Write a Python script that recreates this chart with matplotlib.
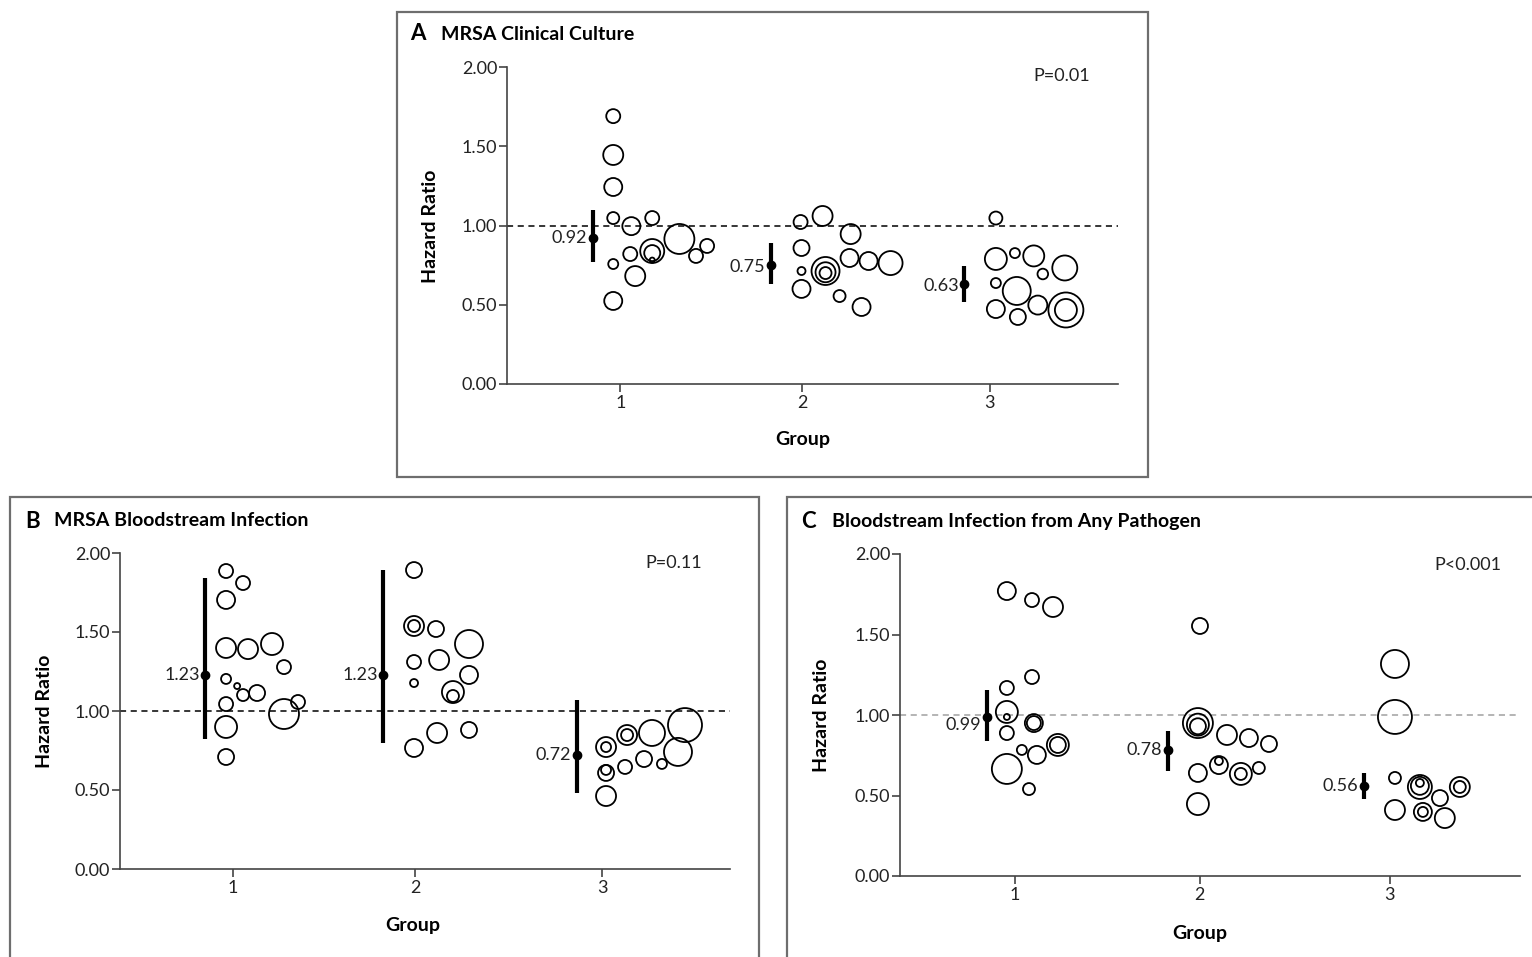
import matplotlib.pyplot as plt
from matplotlib.patches import Rectangle

plt.rcParams['font.family'] = ['Lato', 'DejaVu Sans']

# Study-level hazard ratios (bubbles), bubble weight ~ radius, per panel
a_x = [0.962, 0.962, 0.962, 0.962, 1.06, 1.173, 1.32, 1.47, 1.41, 1.173, 1.173, 1.173, 1.054, 0.962, 1.081, 0.962,
       1.976, 2.095, 2.247, 1.981, 1.981, 2.111, 2.111, 2.111, 2.241, 2.344, 2.463, 1.981, 2.187, 2.306,
       3.033, 3.033, 3.136, 3.238, 3.406, 3.287, 3.033, 3.146, 3.26, 3.033, 3.152, 3.412, 3.412]
a_y = [1.69, 1.445, 1.243, 1.047, 0.996, 1.047, 0.915, 0.871, 0.808, 0.839, 0.826, 0.782, 0.82, 0.757, 0.681, 0.524,
       1.022, 1.06, 0.946, 0.858, 0.713, 0.713, 0.705, 0.70, 0.795, 0.776, 0.763, 0.60, 0.555, 0.486,
       1.047, 0.789, 0.826, 0.808, 0.732, 0.694, 0.637, 0.587, 0.498, 0.473, 0.423, 0.467, 0.467]
a_w = [7, 10, 9, 6, 9, 7, 15, 7, 7, 12, 8, 2.5, 7, 5, 10, 9,
       7, 10, 10, 8, 4, 14, 10, 6, 9, 9, 12, 9, 6, 9,
       6.5, 11, 5, 10.5, 12.5, 5.3, 5, 14, 9.5, 9, 8, 17.5, 11]

b_x = [0.962, 1.054, 0.962, 0.962, 1.081, 1.211, 1.276, 0.962, 1.022, 1.054, 1.13, 1.352, 0.962, 1.276, 0.962, 0.962,
       1.981, 1.981, 1.981, 2.1, 2.279, 1.981, 2.117, 2.279, 1.981, 2.192, 2.192, 2.106, 2.279, 1.981,
       3.022, 3.022, 3.136, 3.136, 3.271, 3.45, 3.412, 3.022, 3.022, 3.125, 3.228, 3.325, 3.022]
b_y = [1.886, 1.81, 1.703, 1.399, 1.392, 1.424, 1.278, 1.203, 1.158, 1.101, 1.114, 1.057, 1.044, 0.981, 0.899, 0.709,
       1.892, 1.538, 1.538, 1.519, 1.424, 1.31, 1.323, 1.228, 1.177, 1.12, 1.095, 0.861, 0.88, 0.766,
       0.772, 0.772, 0.848, 0.848, 0.861, 0.911, 0.741, 0.608, 0.627, 0.646, 0.696, 0.665, 0.462]
b_w = [7, 7, 9, 10, 10, 11, 7, 5, 3, 6, 8, 7, 7, 15, 11, 8,
       8, 10, 6, 8, 14, 7, 10, 9, 4, 11, 6, 10, 8, 9,
       10, 5, 10, 6, 13, 17, 14, 8, 5, 7, 8, 5, 10]

c_x = [0.957, 1.091, 1.203, 1.091, 0.957, 0.957, 0.957, 1.101, 1.101, 0.957, 1.037, 1.117, 1.229, 1.229, 0.957, 1.075,
       1.987, 1.976, 1.976, 1.976, 2.131, 2.248, 2.355, 1.976, 2.088, 2.088, 2.205, 2.205, 2.301, 1.976,
       3.027, 3.027, 3.027, 3.16, 3.16, 3.16, 3.267, 3.373, 3.373, 3.027, 3.176, 3.176, 3.293]
c_y = [1.77, 1.714, 1.671, 1.236, 1.168, 1.019, 0.988, 0.95, 0.95, 0.888, 0.783, 0.752, 0.814, 0.814, 0.665, 0.54,
       1.553, 0.95, 0.94, 0.93, 0.876, 0.857, 0.82, 0.64, 0.689, 0.714, 0.634, 0.634, 0.671, 0.447,
       1.317, 0.988, 0.609, 0.553, 0.56, 0.578, 0.484, 0.553, 0.553, 0.41, 0.398, 0.398, 0.36]
c_w = [9, 7, 10, 7, 7, 11, 3, 9, 7, 7, 5, 9, 11, 8, 15, 6,
       8, 15, 11, 8, 10, 9, 8, 9, 9, 4, 11, 6, 6, 11,
       14, 17, 6, 12, 9, 4, 8, 10, 6, 10, 9, 5, 10]

# Pooled estimates with 95% CI
est_x = [0.85, 1.815, 2.862]
a_est, a_lo, a_hi = [0.92, 0.75, 0.63], [0.77, 0.63, 0.517], [1.10, 0.89, 0.745]
b_est, b_lo, b_hi = [1.23, 1.23, 0.72], [0.82, 0.80, 0.48], [1.84, 1.89, 1.07]
c_est, c_lo, c_hi = [0.99, 0.78, 0.56], [0.84, 0.65, 0.478], [1.155, 0.90, 0.64]

groups = ['1', '2', '3']
group_pos = [1, 1.986, 3]
yticks = [0.0, 0.5, 1.0, 1.5, 2.0]

W, H = 1532, 957
fig = plt.figure(figsize=(W / 100, H / 100), dpi=100)
TXT = '#222222'


def fx(px):
    return px / W


def fy(py):
    return 1 - py / H


def panel(ax_px, xs, ys, ws, est, lo, hi, pval, ref_color, est_nudge):
    l, t, r, b = ax_px
    ax = fig.add_axes([fx(l), fy(b), fx(r) - fx(l), fy(t) - fy(b)])
    ax.set_xlim(0.387, 3.694)
    ax.set_ylim(0, 2)
    for s in ['top', 'right']:
        ax.spines[s].set_visible(False)
    for s in ['left', 'bottom']:
        ax.spines[s].set_color('#444444')
        ax.spines[s].set_linewidth(1.2)
    ax.set_xticks(group_pos, groups)
    ax.set_yticks(yticks, ['%.2f' % v for v in yticks])
    ax.tick_params(axis='both', colors='#444444', labelcolor=TXT, labelsize=13, length=6, width=1.2)
    ax.tick_params(axis='x', pad=2)
    ax.tick_params(axis='y', pad=1)
    ax.axhline(1.0, color=ref_color, ls=(0, (4, 3)), lw=1.1, zorder=1)
    ax.scatter(xs, ys, s=[(1.44 * w) ** 2 for w in ws], facecolors='none', edgecolors='black',
               linewidths=1.3, zorder=3, clip_on=False)
    for i in range(3):
        ax.plot([est_x[i], est_x[i]], [lo[i], hi[i]], color='black', lw=3, solid_capstyle='butt', zorder=4)
        ax.plot(est_x[i], est[i], 'o', color='black', ms=6, zorder=5)
        ax.annotate('%.2f' % est[i], (est_x[i], est[i]), xytext=(-4, est_nudge[i]), textcoords='offset points',
                    ha='right', va='center', fontsize=13, color=TXT)
    return ax


panel((507, 67, 1118, 384), a_x, a_y, a_w, a_est, a_lo, a_hi, 'P=0.01', 'black', [0, -1, -1])
panel((120, 553, 730, 869), b_x, b_y, b_w, b_est, b_lo, b_hi, 'P=0.11', 'black', [0, 0, 0])
panel((900, 554, 1520, 876), c_x, c_y, c_w, c_est, c_lo, c_hi, 'P<0.001', '#a0a0a0', [-6, 0, 0])

# panel frames
for (l, t, r, b) in [(397, 12, 1148, 477), (10, 497, 759, 962), (787, 497, 1537, 962)]:
    fig.add_artist(Rectangle((fx(l), fy(b)), fx(r) - fx(l), fy(t) - fy(b), transform=fig.transFigure,
                             fill=False, ec='#6e6e6e', lw=1.6))

# panel titles, axis labels and P values
for letter, title, lx, tx, ty in [('A', 'MRSA Clinical Culture', 410, 441, 34),
                                  ('B', 'MRSA Bloodstream Infection', 25, 54, 521),
                                  ('C', 'Bloodstream Infection from Any Pathogen', 801, 832, 522)]:
    fig.text(fx(lx), fy(ty), letter, fontsize=16, fontweight='bold', va='center', ha='left')
    fig.text(fx(tx), fy(ty), title, fontsize=14, fontweight='bold', va='center', ha='left')

for px, py in [(431, 226), (45, 711), (822, 715)]:
    fig.text(fx(px), fy(py), 'Hazard Ratio', fontsize=14, fontweight='bold', rotation=90,
             ha='center', va='center')
for px, py in [(803, 440), (413, 925), (1200, 933)]:
    fig.text(fx(px), fy(py), 'Group', fontsize=14, fontweight='bold', ha='center', va='center')
for ptxt, px, py in [('P=0.01', 1062, 76), ('P=0.11', 674, 563), ('P<0.001', 1468, 565)]:
    fig.text(fx(px), fy(py), ptxt, fontsize=13, color=TXT, ha='center', va='center')

fig.savefig('out.png', dpi=100)
